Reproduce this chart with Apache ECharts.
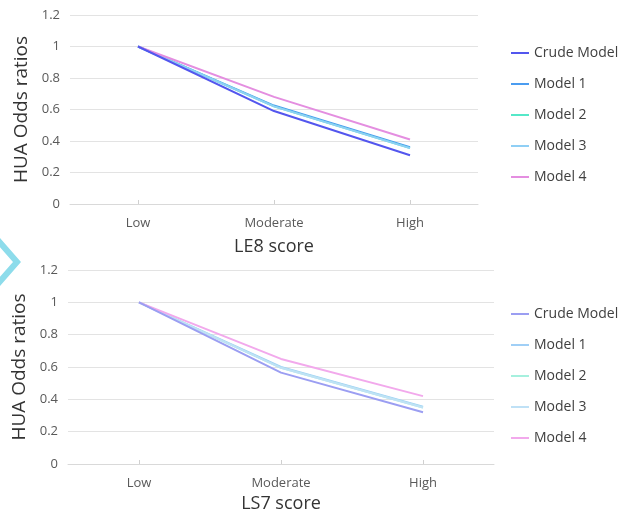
<!DOCTYPE html>
<html>
<head>
<meta charset="utf-8">
<script src="https://cdn.jsdelivr.net/npm/echarts@6/dist/echarts.min.js"></script>
<style>
  html, body { margin: 0; padding: 0; background: #fff; }
  #chart { width: 619px; height: 517px; }
</style>
</head>
<body>
<div id="chart"></div>
<script>
// 类别与刻度
var categories = ['Low', 'Moderate', 'High']
var modelNames = ['Crude Model', 'Model 1', 'Model 2', 'Model 3', 'Model 4']

// LE8 score (上图)
var le8Crude = [1, 0.59, 0.31]
var le8Model1 = [1, 0.625, 0.36]
var le8Model2 = [1, 0.62, 0.355]
var le8Model3 = [1, 0.62, 0.355]
var le8Model4 = [1, 0.68, 0.41]

// LS7 score (下图)
var ls7Crude = [1, 0.565, 0.32]
var ls7Model1 = [1, 0.6, 0.355]
var ls7Model2 = [1, 0.595, 0.35]
var ls7Model3 = [1, 0.595, 0.35]
var ls7Model4 = [1, 0.65, 0.42]

var topColors = ['#5356ee', '#4a9cf0', '#55e8c8', '#8fcff5', '#e48ee0']
var bottomColors = ['#9b9ef2', '#a0cff6', '#a6f0de', '#bfe1f6', '#f2a9ec']

var font = '"Open Sans", "Noto Sans", sans-serif'

function makeSeries(dataList, colors, axisIndex) {
  return dataList.map(function(d, i) {
    return {
      name: modelNames[i],
      type: 'line',
      xAxisIndex: axisIndex,
      yAxisIndex: axisIndex,
      symbol: 'none',
      lineStyle: { width: 2, color: colors[i] },
      itemStyle: { color: colors[i] },
      z: i === 0 ? 5 : 3,
      data: d
    }
  })
}

function makeLegend(colors, top) {
  return {
    orient: 'vertical',
    left: 506,
    top: top,
    icon: 'rect',
    itemWidth: 18,
    itemHeight: 2,
    itemGap: 17,
    selectedMode: false,
    textStyle: { fontFamily: font, fontSize: 14, color: '#404040' },
    data: modelNames.map(function(n, i) {
      return { name: n, itemStyle: { color: colors[i] } }
    })
  }
}

function makeXAxis(gridIndex, name, gap) {
  return {
    type: 'category',
    gridIndex: gridIndex,
    data: categories,
    name: name,
    nameLocation: 'middle',
    nameGap: gap,
    nameTextStyle: { fontFamily: font, fontSize: 18, color: '#333' },
    axisLine: { lineStyle: { color: '#d9d9d9', width: 1 } },
    axisTick: { show: true, alignWithLabel: true, inside: true, length: 4, lineStyle: { color: '#d0d0d0' } },
    axisLabel: { fontFamily: font, fontSize: 13, color: '#595959', margin: 13 }
  }
}

function makeYAxis(gridIndex) {
  return {
    type: 'value',
    gridIndex: gridIndex,
    min: 0,
    max: 1.2,
    interval: 0.2,
    name: 'HUA Odds ratios',
    nameLocation: 'middle',
    nameGap: 34,
    nameTextStyle: { fontFamily: font, fontSize: 19, color: '#333' },
    axisLine: { show: false },
    axisTick: { show: false },
    axisLabel: {
      fontFamily: font, fontSize: 13, color: '#595959', margin: 10,
      formatter: function(v) { return String(Math.round(v * 10) / 10) }
    },
    splitLine: { lineStyle: { color: '#e3e3e3', width: 1 } }
  }
}

var chart = echarts.init(document.getElementById('chart'))
chart.setOption({
  backgroundColor: '#fff',
  animation: false,
  graphic: [{
    type: 'polyline',
    shape: { points: [[-4, 238], [17, 262], [-4, 286]] },
    style: { stroke: '#8ddceb', lineWidth: 6, fill: null },
    z: 0
  }],
  legend: [makeLegend(topColors, 41), makeLegend(bottomColors, 302)],
  grid: [
    { left: 70, top: 15, width: 408, height: 189 },
    { left: 68, top: 270, width: 426, height: 194 }
  ],
  xAxis: [makeXAxis(0, 'LE8 score', 34), makeXAxis(1, 'LS7 score', 31)],
  yAxis: [makeYAxis(0), makeYAxis(1)],
  series: makeSeries([le8Crude, le8Model1, le8Model2, le8Model3, le8Model4], topColors, 0)
    .concat(makeSeries([ls7Crude, ls7Model1, ls7Model2, ls7Model3, ls7Model4], bottomColors, 1))
})
</script>
</body>
</html>
